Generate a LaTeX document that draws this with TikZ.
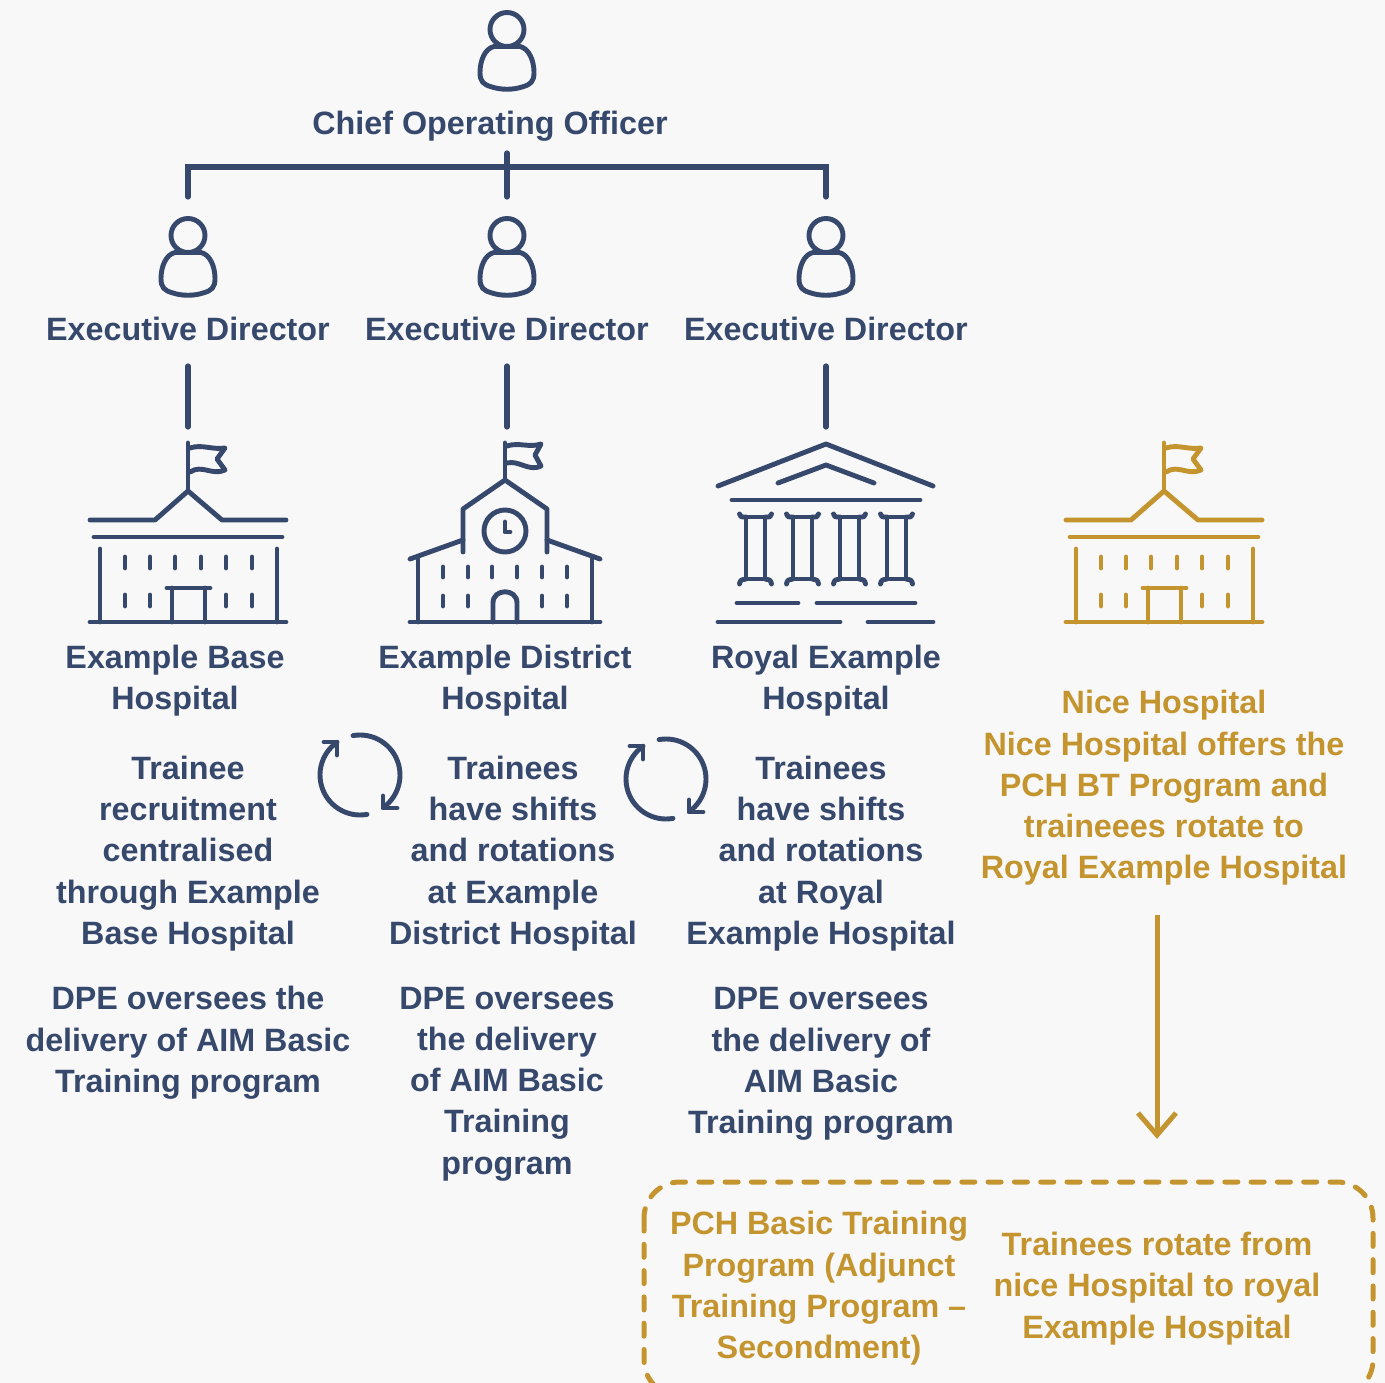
\documentclass[tikz,border=0pt]{standalone}
\usepackage{fontspec}
\setmainfont{Liberation Sans}
\usepackage{tikz}
\usetikzlibrary{positioning,calc}
\usepackage{xcolor}
\definecolor{pagegrey}{RGB}{248,248,248}
\definecolor{deepnavy}{RGB}{54,72,107}
\definecolor{darkgold}{RGB}{196,149,47}
\tikzset{
    label/.style={inner sep=0pt,align=center,font=\fontsize{32.3}{41.3}\selectfont\bfseries},
    navylabel/.style={label,text=deepnavy},
    goldlabel/.style={label,text=darkgold},
    link/.style={line width=5.2pt,deepnavy,line cap=round},
    goldlink/.style={line width=5pt,darkgold},
    iconline/.style={line width=4.9pt,line cap=round,line join=round},
    % Person icon, origin at the centre of the head
    person/.pic={
        \draw[iconline,deepnavy] (0,0) circle[radius=17];
        \draw[iconline,deepnavy] (-13,17) -- (13,17) .. controls (22,19) and (27,31) .. (27,43)
            .. controls (27,52) and (24,55) .. (15,57.5) .. controls (6,60.5) and (-6,60.5) .. (-15,57.5)
            .. controls (-24,55) and (-27,52) .. (-27,43) .. controls (-27,31) and (-22,19) .. (-13,17);
    },
    % Flag hospital, origin on the pole, y values as on the page
    flaghospital/.pic={
        \draw[iconline] (0,491) -- (0,443);
        \draw[iconline] (2,448) .. controls (14,444) and (24,450) .. (37,448) -- (29,459) -- (37,470)
            .. controls (24,476) and (14,464) .. (2,472);
        \draw[iconline] (-98,520) -- (-33,520) -- (0,491) -- (34,520) -- (98,520);
        \draw[iconline] (-94,537) -- (94,537);
        \draw[iconline] (-88,549) -- (-88,622);
        \draw[iconline] (89,549) -- (89,622);
        \draw[iconline] (-98,622) -- (98,622);
        \foreach \wx in {-63,-38,-13,13,38,64} \draw[iconline] (\wx,557) -- (\wx,568);
        \foreach \wx in {-63,-38,38,64} \draw[iconline] (\wx,595) -- (\wx,606);
        \draw[iconline] (-21,588) -- (22,588);
        \draw[iconline] (-16,588) -- (-16,622);
        \draw[iconline] (17,588) -- (17,622);
    },
    % Hospital with clock tower
    clockhospital/.pic={
        \draw[iconline] (0,480) -- (0,443);
        \draw[iconline] (2,446) .. controls (14,442) and (24,448) .. (36,444) -- (30,455) -- (36,466)
            .. controls (24,472) and (14,460) .. (2,463);
        \draw[iconline] (-42,552) -- (-42,509) -- (0,480) -- (42,509) -- (42,552);
        \draw[iconline] (0,531) circle[radius=21];
        \draw[iconline] (0,522) -- (0,532) -- (5,532);
        \draw[iconline] (-42,540) -- (-95,559);
        \draw[iconline] (42,540) -- (95,559);
        \draw[iconline] (-87,557) -- (-87,622);
        \draw[iconline] (87,557) -- (87,622);
        \draw[iconline] (-95,622) -- (95,622);
        \foreach \wx in {-62,-37,-13,12,37,62} \draw[iconline] (\wx,567) -- (\wx,577);
        \foreach \wx in {-62,-37,37,62} \draw[iconline] (\wx,596) -- (\wx,606);
        \draw[iconline] (-12,622) -- (-12,603) .. controls (-12,588) and (12,588) .. (12,603) -- (12,622);
    },
    % Hospital with columns
    columnhospital/.pic={
        \draw[iconline] (-108,486) -- (0,444) -- (107,486);
        \draw[iconline] (-48,483) -- (0,465) -- (48,483);
        \draw[iconline] (-94,500) -- (94,500);
        \foreach \cx in {-70.5,-23.5,23.5,70.5} {
            \draw[iconline] (\cx-9.5,517) rectangle (\cx+9.5,579);
            \draw[iconline] (\cx-16,514) .. controls (\cx-15,517) .. (\cx-9.5,517);
            \draw[iconline] (\cx+16,514) .. controls (\cx+15,517) .. (\cx+9.5,517);
            \draw[iconline] (\cx-16,584) .. controls (\cx-15,580) .. (\cx-9.5,579);
            \draw[iconline] (\cx+16,584) .. controls (\cx+15,580) .. (\cx+9.5,579);
        }
        \draw[iconline] (-89,603) -- (-28,603);
        \draw[iconline] (-9,603) -- (89,603);
        \draw[iconline] (-108,622) -- (14,622);
        \draw[iconline] (42,622) -- (107,622);
    },
    % Two arrows on a circle
    cycleicon/.pic={
        \draw[iconline,deepnavy] plot[smooth,domain=-100:54,samples=30] ({40*cos(\x)},{40*sin(\x)});
        \draw[iconline,deepnavy] (23,21) -- (23,33) -- (37,33);
        \draw[iconline,deepnavy] plot[smooth,domain=80:235,samples=30] ({40*cos(\x)},{40*sin(\x)});
        \draw[iconline,deepnavy] (-36,-33) -- (-23,-33) -- (-23,-20);
    }
}
\begin{document}
\begin{tikzpicture}[x=1pt,y=-1pt]
    \useasboundingbox (0,0) rectangle (1385,1383);
    \fill[pagegrey] (0,0) rectangle (1385,1383);

    % People
    \pic at (507,29.5) {person};
    \pic at (188,235.5) {person};
    \pic at (507,235.5) {person};
    \pic at (826,235.5) {person};
    \node[navylabel] (chief) at (490,126) {Chief Operating Officer};
    \node[navylabel] (director1) at (188,329) {Executive Director};
    \node[navylabel] (director2) at (507,329) {Executive Director};
    \node[navylabel] (director3) at (826,329) {Executive Director};

    % Reporting lines
    \coordinate (chiefend) at (507,153);
    \coordinate (branch) at (507,167);
    \coordinate (drop1) at (188,197);
    \coordinate (drop2) at (507,197);
    \coordinate (drop3) at (826,197);
    \draw[link] (chiefend) -- (drop2);
    \draw[link] (drop1) |- (branch) -| (drop3);
    \coordinate (top1) at (188,366);
    \coordinate (top2) at (507,366);
    \coordinate (top3) at (826,366);
    \coordinate (hosp1) at (188,427);
    \coordinate (hosp2) at (507,427);
    \coordinate (hosp3) at (826,427);
    \foreach \i in {1,2,3} \draw[link] (top\i) -- (hosp\i);

    % Hospitals
    \pic[color=deepnavy] at (188,0) {flaghospital};
    \pic[color=deepnavy] at (505,0) {clockhospital};
    \pic[color=deepnavy] at (826,0) {columnhospital};
    \pic[color=darkgold] at (1164,0) {flaghospital};
    \node[navylabel] (base) at (175,680.5) {Example Base\\Hospital};
    \node[navylabel] (district) at (505,680.5) {Example District\\Hospital};
    \node[navylabel] (royal) at (826,680.5) {Royal Example\\Hospital};

    % Rotation
    \pic at (360,775) {cycleicon};
    \pic at (666,779) {cycleicon};

    % Descriptions
    \node[navylabel] (recruit) at (188,853.5) {Trainee\\recruitment\\centralised\\through Example\\Base Hospital};
    \node[navylabel] (shifts1) at (513,853.5) {Trainees\\have shifts\\and rotations\\at Example\\District Hospital};
    \node[navylabel] (shifts2) at (821,853.5) {Trainees\\have shifts\\and rotations\\at Royal\\Example Hospital};
    \node[navylabel] (dpe1) at (188,1043) {DPE oversees the\\delivery of AIM Basic\\Training program};
    \node[navylabel] (dpe2) at (507,1084) {DPE oversees\\the delivery\\of AIM Basic\\Training\\program};
    \node[navylabel] (dpe3) at (821,1064) {DPE oversees\\the delivery of\\AIM Basic\\Training program};

    % Nice Hospital
    \node[goldlabel] (nice) at (1164,788) {Nice Hospital\\Nice Hospital offers the\\PCH BT Program and\\traineees rotate to\\Royal Example Hospital};
    \coordinate (arrowstart) at (1157,915);
    \coordinate (arrowtip) at (1157,1135);
    \coordinate (headleft) at (1138,1113);
    \coordinate (headright) at (1176,1113);
    \draw[goldlink] (arrowstart) -- (arrowtip);
    \draw[goldlink] (headleft) -- (arrowtip) -- (headright);

    % Secondment box
    \draw[line width=5pt,darkgold,line cap=round,dash pattern=on 13pt off 13.3pt,rounded corners=36pt] (644,1182) rectangle (1373,1396);
    \node[goldlabel] (pch) at (819,1288.5) {PCH Basic Training\\Program (Adjunct\\Training Program --\\Secondment)};
    \node[goldlabel] (rotate) at (1157,1288.5) {Trainees rotate from\\nice Hospital to royal\\Example Hospital};
\end{tikzpicture}
\end{document}
